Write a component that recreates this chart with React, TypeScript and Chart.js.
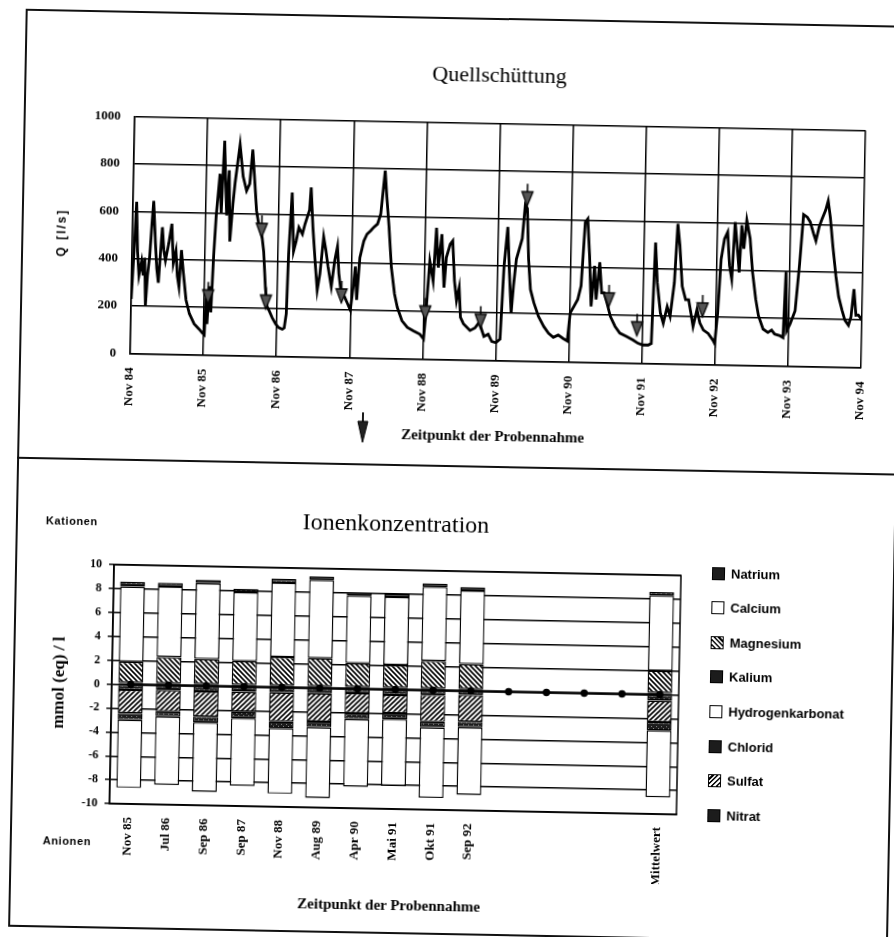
import React, { useEffect, useRef } from "react";
import { Chart, registerables } from "chart.js";
Chart.register(...registerables);

// ---------- Quellschüttung (discharge) data: months since Nov 84, Q in l/s ----------
const qMonths = [
  0.0, 0.3, 0.6, 0.9, 1.2, 1.6, 1.9, 2.1, 2.35, 2.6, 2.9, 3.2, 3.4, 3.8, 4.1, 4.4, 4.9, 5.2, 5.5, 6.0,
  6.45, 6.8, 7.2, 7.5, 7.8, 8.1, 8.5, 9.0, 9.6, 10.4, 11.2, 11.8, 12.1, 12.3, 12.5, 12.8, 13.1, 13.4, 13.7, 14.2,
  14.5, 14.86, 15.1, 15.4, 15.7, 16.0, 16.4, 16.7, 17.4, 18.0, 18.6, 19.1, 19.5, 19.95, 20.3, 20.7, 21.0, 21.3, 21.6, 22.0,
  22.3, 22.7, 23.2, 23.8, 24.3, 24.9, 25.2, 25.5, 25.7, 26.1, 26.5, 26.9, 27.3, 27.9, 28.3, 29.0, 29.2, 29.6, 30.1, 30.5,
  30.9, 31.4, 31.8, 32.2, 32.8, 33.3, 33.7, 34.0, 34.5, 35.0, 35.5, 36.0, 36.4, 36.7, 37.0, 37.4, 38.0, 38.5, 39.1, 39.6,
  40.2, 40.7, 41.3, 41.6, 42.1, 42.6, 43.2, 43.7, 44.5, 45.4, 46.4, 47.5, 48.1, 48.4, 48.9, 49.5, 49.9, 50.3, 50.8, 51.3,
  51.6, 52.2, 52.6, 53.0, 53.4, 53.8, 54.1, 54.6, 55.7, 56.5, 57.2, 57.6, 58.0, 58.7, 59.3, 60.0, 60.66, 61.1, 61.6, 62.0,
  62.4, 62.7, 63.1, 63.7, 64.0, 64.4, 64.75, 65.1, 65.5, 66.1, 66.9, 67.8, 68.6, 69.4, 70.2, 71.0, 71.7, 72.1, 72.7, 73.3,
  73.8, 74.3, 74.7, 75.1, 75.5, 75.96, 76.3, 76.8, 77.2, 77.6, 78.1, 78.7, 79.5, 80.3, 81.4, 82.5, 83.3, 84.1, 85.0, 85.5,
  85.9, 86.3, 86.9, 87.4, 88.0, 88.5, 89.1, 89.5, 89.9, 90.4, 91.0, 91.5, 91.9, 92.3, 92.9, 93.4, 94.0, 94.8, 95.6, 95.9,
  96.3, 96.7, 97.2, 97.7, 98.1, 98.5, 98.9, 99.3, 99.7, 100.0, 100.4, 100.8, 101.4, 101.9, 102.5, 103.0, 103.8, 104.6, 105.2, 105.7,
  106.6, 107.1, 107.4, 107.65, 108.2, 109.0, 109.6, 110.1, 110.7, 111.2, 111.8, 112.2, 112.7, 113.1, 113.7, 114.1, 114.5, 115.0, 115.6, 116.1,
  116.7, 117.2, 117.8, 118.2, 118.6, 119.0, 119.4, 120.0,
];
const qValues = [
  230, 420, 640, 430, 330, 390, 330, 405, 205, 330, 410, 560, 645, 470, 360, 300, 535, 440, 395, 467,
  550, 385, 437, 330, 285, 440, 340, 230, 172, 130, 109, 92, 85, 240, 130, 290, 180, 420, 590, 765,
  600, 905, 760, 590, 780, 480, 640, 730, 890, 755, 695, 725, 870, 725, 612, 555, 527, 500, 440, 285,
  210, 190, 162, 135, 121, 114, 120, 180, 432, 692, 445, 488, 545, 517, 560, 620, 715, 548, 394, 281,
  352, 507, 452, 383, 298, 411, 468, 355, 260, 257, 229, 200, 300, 385, 244, 422, 493, 522, 537, 552,
  566, 609, 792, 694, 553, 385, 272, 216, 160, 132, 118, 104, 85, 188, 414, 330, 555, 387, 528, 303,
  430, 487, 501, 333, 249, 305, 179, 152, 124, 135, 160, 130, 100, 110, 80, 75, 90, 400, 564, 372,
  201, 315, 429, 487, 516, 658, 644, 430, 302, 246, 189, 147, 119, 102, 112, 98, 88, 206, 235, 264,
  321, 591, 605, 450, 236, 407, 265, 422, 294, 294, 252, 195, 153, 125, 112, 97, 84, 77, 77, 84,
  510, 341, 213, 170, 241, 200, 342, 591, 499, 328, 272, 272, 216, 159, 231, 175, 145, 131, 103, 89,
  218, 445, 531, 560, 418, 362, 603, 505, 391, 590, 491, 612, 535, 393, 280, 210, 154, 140, 150, 134,
  127, 120, 398, 147, 176, 233, 433, 640, 630, 610, 560, 530, 590, 620, 660, 700, 630, 509, 382, 297,
  240, 198, 177, 213, 330, 220, 221, 200,
];
const yearLabels = ["Nov 84", "Nov 85", "Nov 86", "Nov 87", "Nov 88", "Nov 89", "Nov 90", "Nov 91", "Nov 92", "Nov 93", "Nov 94"];
const qTickValues = ["0", "200", "400", "600", "800", "1000"];
// sampling dates (arrows)
const sampleMonths = [12.6, 21.2, 22.1, 34.5, 48.3, 57.4, 64.7, 78.4, 83.1, 93.8];
const sampleValues = [215, 500, 198, 230, 165, 135, 655, 235, 115, 200];

// ---------- Ionenkonzentration data (mmol(eq)/l) ----------
const ionCategories = ["Nov 85", "Jul 86", "Sep 86", "Sep 87", "Nov 88", "Aug 89", "Apr 90", "Mai 91", "Okt 91", "Sep 92", "", "", "", "", "Mittelwert"];
const kalium = [0.15, 0.15, 0.15, 0.15, 0.15, 0.15, 0.15, 0.15, 0.15, 0.15, null, null, null, null, 0.15];
const magnesium = [1.75, 2.2, 2.1, 2.0, 2.4, 2.35, 2.0, 1.9, 2.3, 2.1, null, null, null, null, 1.85];
const calcium = [6.3, 5.9, 6.35, 5.75, 6.2, 6.55, 5.65, 5.7, 6.2, 6.15, null, null, null, null, 6.3];
const natrium = [0.4, 0.3, 0.27, 0.28, 0.33, 0.28, 0.28, 0.28, 0.28, 0.28, null, null, null, null, 0.28];
const nitrat = [-0.45, -0.4, -0.47, -0.42, -0.43, -0.43, -0.37, -0.45, -0.39, -0.33, null, null, null, null, -0.5];
const sulfat = [-1.95, -1.8, -2.1, -1.68, -2.43, -2.37, -1.67, -1.53, -2.23, -2.24, null, null, null, null, -1.8];
const chlorid = [-0.56, -0.42, -0.5, -0.55, -0.56, -0.47, -0.5, -0.5, -0.48, -0.47, null, null, null, null, -0.7];
const hydrogenkarbonat = [-5.69, -5.72, -5.8, -5.65, -5.48, -5.93, -5.66, -5.59, -5.9, -5.66, null, null, null, null, -5.6];
const zeroLine = [0, 0, 0, 0, 0, 0, 0, 0, 0, 0, 0, 0, 0, 0, 0];
const legendNames = ["Natrium", "Calcium", "Magnesium", "Kalium", "Hydrogenkarbonat", "Chlorid", "Sulfat", "Nitrat"];

const SERIF = "'Liberation Serif', 'Times New Roman', serif";
const SANS = "'Liberation Sans', Arial, sans-serif";

function makePattern(kind: string): CanvasPattern | string {
  const c = document.createElement("canvas");
  c.width = 5;
  c.height = 5;
  const g = c.getContext("2d")!;
  if (kind === "dark") {
    g.fillStyle = "#1c1c1c";
    g.fillRect(0, 0, 5, 5);
    g.fillStyle = "#8a8a8a";
    g.fillRect(1, 1, 1, 1);
    g.fillRect(3, 3, 1, 1);
  } else {
    g.fillStyle = "#fff";
    g.fillRect(0, 0, 5, 5);
    g.strokeStyle = "#000";
    g.lineWidth = 1.6;
    g.beginPath();
    if (kind === "back") {
      g.moveTo(-1, -1); g.lineTo(6, 6);
      g.moveTo(-1, 4); g.lineTo(1, 6);
      g.moveTo(4, -1); g.lineTo(6, 1);
    } else {
      g.moveTo(-1, 6); g.lineTo(6, -1);
      g.moveTo(-1, 1); g.lineTo(1, -1);
      g.moveTo(4, 6); g.lineTo(6, 4);
    }
    g.stroke();
  }
  return g.createPattern(c, "repeat") || "#000";
}

function makeArrow(): HTMLCanvasElement {
  const c = document.createElement("canvas");
  c.width = 14;
  c.height = 46;
  const g = c.getContext("2d")!;
  g.strokeStyle = "#000";
  g.lineWidth = 1.6;
  g.beginPath();
  g.moveTo(7, 1);
  g.lineTo(7, 9);
  g.stroke();
  g.beginPath();
  g.moveTo(1.5, 9);
  g.lineTo(12.5, 9);
  g.lineTo(7, 23);
  g.closePath();
  g.fillStyle = "#555";
  g.fill();
  g.lineWidth = 1.3;
  g.stroke();
  return c;
}

const framePlugin = {
  id: "frame",
  beforeDatasetsDraw(chart: any) {
    const { ctx, chartArea } = chart;
    ctx.save();
    ctx.strokeStyle = "#000";
    ctx.lineWidth = 1.5;
    ctx.strokeRect(chartArea.left, chartArea.top, chartArea.right - chartArea.left, chartArea.bottom - chartArea.top);
    ctx.restore();
  },
};

function Txt(props: { x: number; y: number; rot?: number; style: React.CSSProperties; children: React.ReactNode; left?: boolean }) {
  const { x, y, rot, style, children, left } = props;
  return (
    <div
      style={{
        position: "absolute",
        left: x,
        top: y,
        whiteSpace: "nowrap",
        lineHeight: 1,
        color: "#000",
        transform: `translate(${left ? "0" : "-50%"}, -50%)${rot ? ` rotate(${rot}deg)` : ""}`,
        ...style,
      }}
    >
      {children}
    </div>
  );
}

const swatch: Record<string, string> = {
  Natrium: "#1c1c1c",
  Calcium: "#fff",
  Magnesium: "repeating-linear-gradient(45deg, #fff 0 1.7px, #000 1.7px 3.4px)",
  Kalium: "#1c1c1c",
  Hydrogenkarbonat: "#fff",
  Chlorid: "#1c1c1c",
  Sulfat: "repeating-linear-gradient(-45deg, #fff 0 1.7px, #000 1.7px 3.4px)",
  Nitrat: "#1c1c1c",
};

export default function App() {
  const topRef = useRef<HTMLCanvasElement>(null);
  const botRef = useRef<HTMLCanvasElement>(null);

  useEffect(() => {
    const arrow = makeArrow();
    const tickFontTop = { family: SERIF, size: 13, weight: "bold" as const };
    const c1 = new Chart(topRef.current!, {
      type: "line",
      data: {
        datasets: [
          {
            label: "Q",
            data: qMonths.map((m, i) => ({ x: m, y: qValues[i] })),
            borderColor: "#000",
            borderWidth: 2.8,
            pointRadius: 0,
            tension: 0,
            order: 2,
          },
          {
            label: "Probennahme",
            data: sampleMonths.map((m, i) => ({ x: m, y: sampleValues[i] })),
            showLine: false,
            pointStyle: arrow,
            pointRadius: 10,
            order: 1,
          } as any,
        ],
      },
      options: {
        animation: false,
        responsive: false,
        maintainAspectRatio: false,
        layout: { padding: { top: 122.5, right: 35, bottom: 36.5, left: 0 } },
        plugins: { legend: { display: false }, tooltip: { enabled: false } },
        scales: {
          x: {
            type: "linear",
            min: 0,
            max: 120,
            ticks: {
              stepSize: 12,
              autoSkip: false,
              maxRotation: 90,
              minRotation: 90,
              padding: 14,
              color: "#000",
              font: tickFontTop,
              callback: (v: any) => yearLabels[Math.round(Number(v) / 12)] ?? "",
            },
            grid: { color: "#000", lineWidth: 1.5, drawTicks: false },
            border: { color: "#000", width: 1.5 },
            afterFit: (s: any) => { s.height = 70; },
          },
          y: {
            min: 0,
            max: 1000,
            ticks: {
              stepSize: 200,
              padding: 14,
              color: "#000",
              font: tickFontTop,
              callback: (v: any) => qTickValues[Math.round(Number(v) / 200)] ?? "",
            },
            grid: { color: "#000", lineWidth: 1.5, drawTicks: false },
            border: { color: "#000", width: 1.5 },
            afterFit: (s: any) => { s.width = 128; },
          },
        },
      },
    });

    const dark = makePattern("dark");
    const back = makePattern("back");
    const fwd = makePattern("fwd");
    const barBase = {
      borderColor: "#000",
      borderWidth: 1.4,
      borderSkipped: false as const,
      stack: "ion",
      order: 1,
      barPercentage: 0.66,
      categoryPercentage: 1.0,
    };
    const c2 = new Chart(botRef.current!, {
      type: "bar",
      data: {
        labels: ionCategories,
        datasets: [
          {
            type: "line",
            label: "Null",
            data: zeroLine,
            borderColor: "#000",
            borderWidth: 2.6,
            pointRadius: 2.4,
            pointBackgroundColor: "#000",
            pointBorderColor: "#000",
            stack: "zero",
            order: 0,
          } as any,
          { ...barBase, label: "Kalium", data: kalium, backgroundColor: dark },
          { ...barBase, label: "Magnesium", data: magnesium, backgroundColor: back },
          { ...barBase, label: "Calcium", data: calcium, backgroundColor: "#fff" },
          { ...barBase, label: "Natrium", data: natrium, backgroundColor: dark },
          { ...barBase, label: "Nitrat", data: nitrat, backgroundColor: dark },
          { ...barBase, label: "Sulfat", data: sulfat, backgroundColor: fwd },
          { ...barBase, label: "Chlorid", data: chlorid, backgroundColor: dark },
          { ...barBase, label: "Hydrogenkarbonat", data: hydrogenkarbonat, backgroundColor: "#fff" },
        ] as any,
      },
      options: {
        animation: false,
        responsive: false,
        maintainAspectRatio: false,
        layout: { padding: { top: 105, right: 211, bottom: 57, left: 0 } },
        plugins: { legend: { display: false }, tooltip: { enabled: false } },
        scales: {
          x: {
            stacked: true,
            ticks: {
              autoSkip: false,
              maxRotation: 90,
              minRotation: 90,
              padding: 13,
              color: "#000",
              font: { family: SERIF, size: 13, weight: "bold" },
            },
            grid: { display: false, drawTicks: false },
            border: { color: "#000", width: 1.5 },
            afterFit: (s: any) => { s.height = 70; },
          },
          y: {
            stacked: true,
            min: -10,
            max: 10,
            ticks: { stepSize: 2, padding: 7, color: "#000", font: { family: SERIF, size: 12, weight: "bold" } },
            grid: { color: "#000", lineWidth: 1.4, drawTicks: true, tickLength: 5 },
            border: { color: "#000", width: 1.5 },
            afterFit: (s: any) => { s.width = 116; },
          },
        },
      },
      plugins: [framePlugin],
    });

    return () => {
      c1.destroy();
      c2.destroy();
    };
  }, []);

  return (
    <div style={{ position: "fixed", left: 0, top: 0, width: 894, height: 937, overflow: "hidden", background: "#fff" }}>
      <div
        style={{
          position: "absolute",
          left: 0,
          top: 0,
          width: 894,
          height: 937,
          transform: "rotate(1.1deg)",
          transformOrigin: "447px 468px",
        }}
      >
        {/* page frame and separator */}
        <div style={{ position: "absolute", left: 17, top: 17, width: 880, height: 918, border: "2px solid #111", boxSizing: "border-box" }} />
        <div style={{ position: "absolute", left: 17, top: 465, width: 880, height: 2, background: "#111" }} />

        <canvas ref={topRef} width={894} height={466} style={{ position: "absolute", left: 0, top: 0, width: 894, height: 466 }} />
        <canvas ref={botRef} width={894} height={471} style={{ position: "absolute", left: 0, top: 466, width: 894, height: 471 }} />

        {/* top panel texts */}
        <Txt x={492} y={74} style={{ fontFamily: SERIF, fontSize: 22 }}>Quellschüttung</Txt>
        <Txt x={57} y={240} rot={-90} style={{ fontFamily: SANS, fontSize: 12, fontWeight: "bold", letterSpacing: 2 }}>Q [l/s]</Txt>
        <svg style={{ position: "absolute", left: 356, top: 414 }} width={12} height={31}>
          <line x1={6} y1={0} x2={6} y2={9} stroke="#000" strokeWidth={1.8} />
          <polygon points="1,9 11,9 6,30" fill="#222" stroke="#000" strokeWidth={1} />
        </svg>
        <Txt x={492} y={435} style={{ fontFamily: SERIF, fontSize: 15, fontWeight: "bold" }}>Zeitpunkt der Probennahme</Txt>

        {/* bottom panel texts */}
        <Txt x={47} y={528} left style={{ fontFamily: SANS, fontSize: 11, fontWeight: "bold", letterSpacing: 0.6 }}>Kationen</Txt>
        <Txt x={397} y={524} style={{ fontFamily: SERIF, fontSize: 24 }}>Ionenkonzentration</Txt>
        <Txt x={62} y={690} rot={-90} style={{ fontFamily: SERIF, fontSize: 17, fontWeight: "bold" }}>mmol (eq) / l</Txt>
        <Txt x={50} y={848} left style={{ fontFamily: SANS, fontSize: 11, fontWeight: "bold", letterSpacing: 0.6 }}>Anionen</Txt>
        <Txt x={397} y={906} style={{ fontFamily: SERIF, fontSize: 15, fontWeight: "bold" }}>Zeitpunkt der Probennahme</Txt>

        {/* legend */}
        {legendNames.map((name, i) => (
          <div key={name} style={{ position: "absolute", left: 714, top: 568 + i * 34.6 - 7, height: 14, display: "flex", alignItems: "center" }}>
            <div style={{ width: 13, height: 13, boxSizing: "border-box", border: "1.5px solid #000", background: swatch[name] }} />
            <span style={{ marginLeft: 6, fontFamily: SANS, fontSize: 13, fontWeight: "bold", color: "#000", lineHeight: 1 }}>{name}</span>
          </div>
        ))}
      </div>
    </div>
  );
}
